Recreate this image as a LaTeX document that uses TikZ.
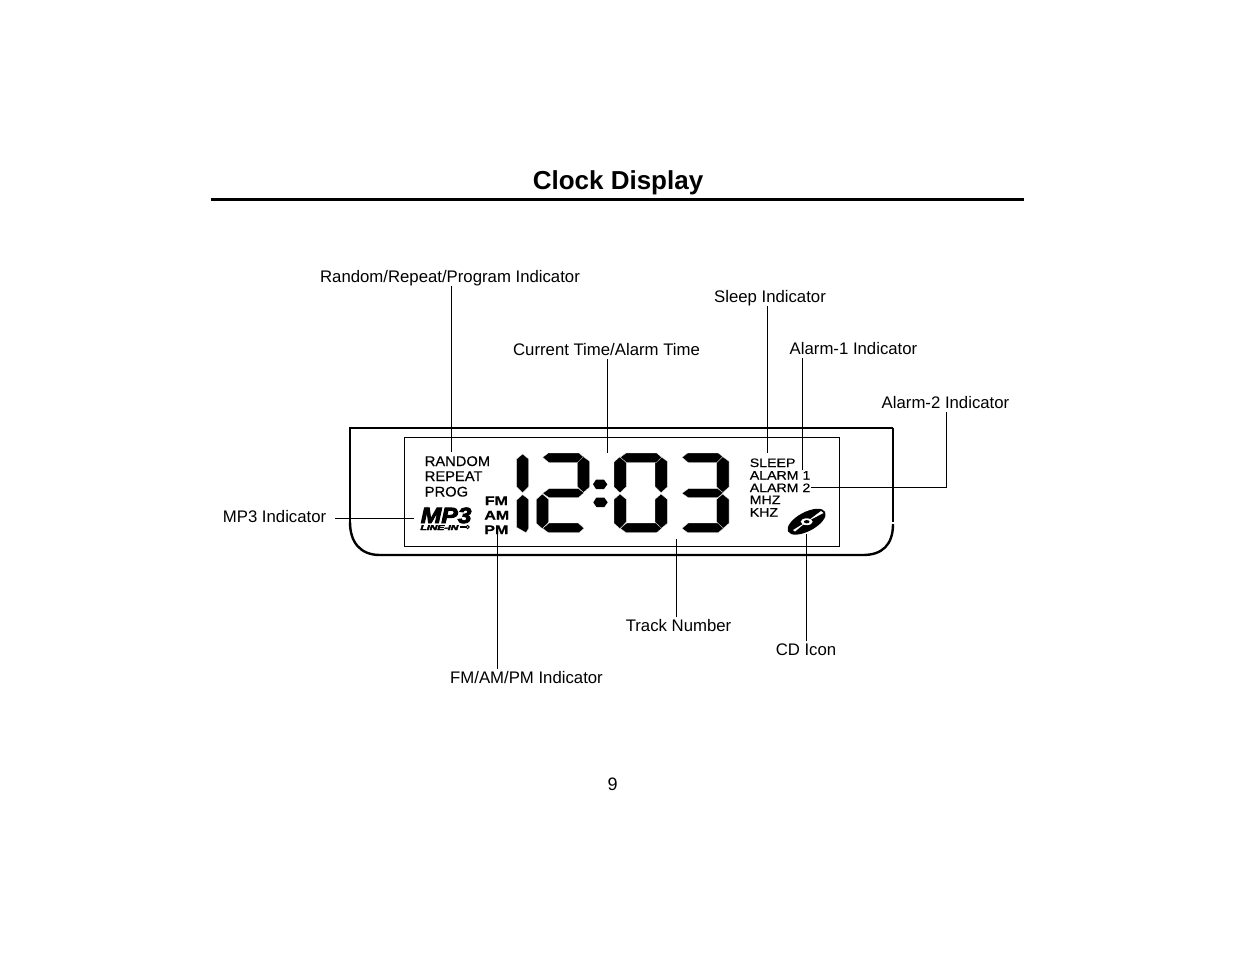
\documentclass[tikz,border=0pt]{standalone}
\usepackage{fontspec}
\setmainfont{Liberation Sans}
\newfontfamily\lcdfont[FakeBold=0.4]{Liberation Sans}
\newfontfamily\lcdbold[FakeBold=0.8]{Liberation Sans Bold}
\newfontfamily\mpfont[FakeBold=4]{Liberation Sans Bold Italic}
\newfontfamily\linefont[FakeBold=5]{Liberation Sans Bold Italic}
\newcommand{\px}[1]{\fontsize{\dimexpr#1pt*3/4\relax}{\dimexpr#1pt*3/4\relax}\selectfont}
\newcommand{\segT}{\filldraw (128,52)--(145,39)--(237,39)--(252,52)--(235,68)--(147,68)--cycle;}
\newcommand{\segM}{\filldraw (128,160)--(147,146)--(235,146)--(252,158)--(235,173)--(147,173)--cycle;}
\newcommand{\segB}{\filldraw (128,265)--(147,249)--(235,249)--(252,265)--(237,278)--(145,278)--cycle;}
\newcommand{\segUL}{\filldraw (109,66)--(127,50)--(146,68)--(146,140)--(127,158)--(109,141)--cycle;}
\newcommand{\segLL}{\filldraw (109,178)--(127,162)--(146,178)--(146,246)--(127,266)--(109,250)--cycle;}
\newcommand{\segUR}{\filldraw (232,68)--(250,50)--(269,64)--(269,141)--(250,158)--(232,140)--cycle;}
\newcommand{\segLR}{\filldraw (232,178)--(250,162)--(269,178)--(269,250)--(250,266)--(232,246)--cycle;}
\tikzset{
  px/.style={x=0.75pt,y=-0.75pt},
  callout/.style={font=\px{16.75},anchor=base,inner sep=0pt,text height=10pt,text depth=3pt},
  leader/.style={draw=black,line width=0.85pt},
  lcd/.style={font=\lcdfont\px{#1},anchor=base west,inner sep=0pt,text depth=0pt},
  lcdb/.style={font=\lcdbold\px{#1},anchor=base west,inner sep=0pt,text depth=0pt},
  digits/.style={x=0.25pt,y=-0.25pt,xshift=375pt,yshift=-330pt,fill=black,draw=white,line width=0.2pt}
}
\begin{document}
\begin{tikzpicture}[px]
\useasboundingbox (0,0) rectangle (1235,954);
\fill[white] (0,0) rectangle (1235,954);
% title
\node[font=\bfseries\px{26},anchor=base,inner sep=0pt] (title) at (618,189) {Clock Display};
\draw[line width=2.3pt] (211,199.5) -- (1024,199.5);
\node[font=\px{18},anchor=base,inner sep=0pt] (page) at (612.5,790) {9};
% housing
\draw[line width=1.8pt] (893,428) -- (350,428) -- (350,522);
\draw[line width=1.4pt] (893,428) -- (893,522);
\draw[line width=1.8pt] (350,522) .. controls (350,542) and (360,555) .. (380,555) -- (863,555) .. controls (882,555) and (893,545) .. (893,524);
\draw[line width=0.9pt] (404.5,437.5) rectangle (839.5,546.5);
% digits
\begin{scope}[digits]
  \filldraw (50,57)--(68,42)--(86,57)--(86,140)--(68,158)--(50,140)--cycle;
  \filldraw (50,180)--(68,164)--(86,178)--(86,265)--(78,278)--(50,262)--cycle;
  \segT\segUR\segM\segLL\segB
  \begin{scope}[xshift=58.25pt]\segUL\segLL\segUR\segLR\segT\segB\end{scope}
  \begin{scope}[xshift=104.5pt]\segT\segUR\segM\segLR\segB\end{scope}
  \fill (279,133)--(288,119)--(312,119)--(322,133)--(312,147)--(288,147)--cycle;
  \fill (280,187)--(289,173)--(313,173)--(323,187)--(313,201)--(289,201)--cycle;
\end{scope}
% left LCD words
\node[lcd=14,xscale=1.05] (random) at (424.5,466) {RANDOM};
\node[lcd=14,xscale=1.05] (repeat) at (424.5,481) {REPEAT};
\node[lcd=14,xscale=1.05] (prog) at (424.5,496.5) {PROG};
\node[lcdb=12.5,xscale=1.28] (fm) at (484.5,505) {FM};
\node[lcdb=12.5,xscale=1.28] (am) at (484,519.5) {AM};
\node[lcdb=12.5,xscale=1.28] (pm) at (484,534) {PM};
\node[font=\mpfont\px{22},anchor=base west,inner sep=0pt,xscale=1.12] (mp3) at (420.5,523) {MP3};
\node[font=\linefont\px{7},anchor=base west,inner sep=0pt,xscale=1.5] (linein) at (420,530) {LINE-IN};
\coordinate (keyend) at (466,527);
\draw[line width=0.8pt] (459.5,527) -- (keyend);
\draw[line width=0.7pt] (keyend) ++(1.6,0) circle (1.6);
% right LCD words
\node[lcd=12.2,xscale=1.16] (sleep) at (749.5,467) {SLEEP};
\node[lcd=12.2,xscale=1.16] (alarma) at (749.5,479.5) {ALARM 1};
\node[lcd=12.2,xscale=1.16] (alarmb) at (749.5,492) {ALARM 2};
\node[lcd=12.2,xscale=1.16] (mhz) at (749.5,504) {MHZ};
\node[lcd=12.2,xscale=1.16] (khz) at (749.5,516.5) {KHZ};
% CD icon
\fill[rotate around={28:(806.6,521.7)}] (806.6,521.7) ellipse (21 and 9.5);
\fill[white] (806.7,521.7)--(793,530)--(795,531.5)--cycle;
\fill[white] (806.7,521.7)--(821,511)--(823.5,513)--cycle;
\fill[white] (806.7,521.7) ellipse (6 and 3.4);
\fill (806.7,521.7) ellipse (2.8 and 1.6);
% callouts
\node[callout] (lrandom) at (450,282) {Random/Repeat/Program Indicator};
\node[callout] (lsleep) at (770,302) {Sleep Indicator};
\node[callout] (ltime) at (606.5,355) {Current Time/Alarm Time};
\node[callout] (lalarma) at (853.5,354) {Alarm-1 Indicator};
\node[callout] (lalarmb) at (945.5,408) {Alarm-2 Indicator};
\node[callout,anchor=base east] (lmp) at (326.5,522) {MP3 Indicator};
\node[callout] (ltrack) at (678.5,631) {Track Number};
\node[callout] (lcd) at (806,655) {CD Icon};
\node[callout] (lfm) at (526.5,683) {FM/AM/PM Indicator};
% connector anchors
\coordinate (ctime) at (607.5,453);
\coordinate (ctrack) at (676.5,539);
\coordinate (crandom) at (451.5,452);
\coordinate (csleep) at (767.5,453);
\coordinate (calarma) at (802.5,470);
\coordinate (calarmb) at (946.5,487.5);
\coordinate (cmp) at (414,518.5);
\coordinate (cfm) at (497.5,533);
\coordinate (ccd) at (806.5,534);
% connectors
\draw[leader] (crandom |- lrandom.south) -- (crandom);
\draw[leader] (csleep |- lsleep.south) -- (csleep);
\draw[leader] (ctime |- ltime.south) -- (ctime);
\draw[leader] (calarma |- lalarma.south) -- (calarma);
\draw[leader] (calarmb |- lalarmb.south) -- (calarmb) -- (alarmb.east |- calarmb);
\draw[leader] (lmp.east |- cmp) ++(8.5,0) -- (cmp);
\draw[leader] (cfm) -- (cfm |- lfm.north);
\draw[leader] (ctrack) -- (ctrack |- ltrack.north);
\draw[leader] (ccd) -- (ccd |- lcd.north);
\end{tikzpicture}
\end{document}
